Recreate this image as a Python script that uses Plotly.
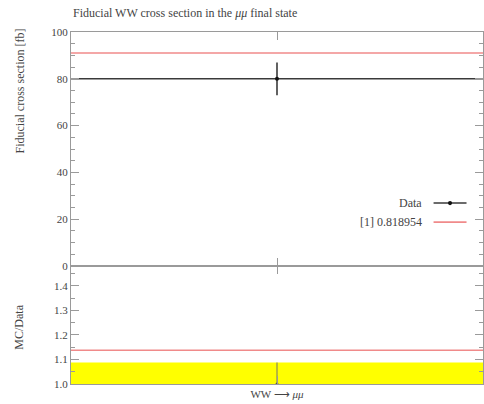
import plotly.graph_objects as go

# Measured fiducial cross section and prediction (fb)
bin_labels = ["WW ⟶ <i>μμ</i>"]
bin_edges = [0.0, 1.0]
data_value = [80.0]
data_error = [7.0]
mc_value = [91.0]
mc_label = "[1] 0.818954"
main_ticks = [0, 20, 40, 60, 80, 100]
ratio_ticks = [1.0, 1.1, 1.2, 1.3, 1.4]

FONT = "Liberation Serif"
TXT = "#444444"
AX = "#9a9a9a"
DARK = "#3a3a3a"
RED = "#f08a8a"

centers = [(bin_edges[i] + bin_edges[i + 1]) / 2 for i in range(len(data_value))]
ratio_mc = [m / d for m, d in zip(mc_value, data_value)]
ratio_err = [e / d for e, d in zip(data_error, data_value)]

fig = go.Figure()

# ---- main panel ----
for i in range(len(data_value)):
    fig.add_trace(go.Scatter(x=[bin_edges[i], bin_edges[i + 1]], y=[mc_value[i]] * 2,
                             mode="lines", line=dict(color=RED, width=1.6),
                             showlegend=False, xaxis="x", yaxis="y"))
    fig.add_trace(go.Scatter(x=[bin_edges[i], bin_edges[i + 1]], y=[data_value[i]] * 2,
                             mode="lines", line=dict(color=DARK, width=1.6),
                             showlegend=False, xaxis="x", yaxis="y"))
fig.add_trace(go.Scatter(x=centers, y=data_value, mode="markers",
                         marker=dict(color="#111111", size=4),
                         error_y=dict(type="data", array=data_error, color=DARK,
                                      thickness=1.6, width=0),
                         showlegend=False, xaxis="x", yaxis="y"))

# ---- ratio panel ----
for i in range(len(data_value)):
    lo, hi = 1 - ratio_err[i], 1 + ratio_err[i]
    fig.add_trace(go.Scatter(x=[bin_edges[i], bin_edges[i + 1], bin_edges[i + 1], bin_edges[i], bin_edges[i]],
                             y=[lo, lo, hi, hi, lo], fill="toself", fillcolor="#ffff00",
                             line=dict(width=0), mode="lines", showlegend=False,
                             xaxis="x2", yaxis="y2"))
    fig.add_trace(go.Scatter(x=[bin_edges[i], bin_edges[i + 1]], y=[ratio_mc[i]] * 2,
                             mode="lines", line=dict(color=RED, width=1.6),
                             showlegend=False, xaxis="x2", yaxis="y2"))
fig.add_trace(go.Scatter(x=centers, y=[1.0] * len(centers), mode="markers",
                         marker=dict(color="#555555", size=3),
                         error_y=dict(type="data", array=ratio_err, color="#8a8a5a",
                                      thickness=1.2, width=0),
                         showlegend=False, xaxis="x2", yaxis="y2"))

axis_common = dict(showline=True, linecolor=AX, linewidth=1, mirror="allticks",
                   ticks="inside", tickcolor=AX, showgrid=False, zeroline=False,
                   tickfont=dict(family=FONT, size=11, color=TXT))

fig.update_layout(
    width=484, height=404,
    margin=dict(l=71, r=1, t=32, b=20),
    paper_bgcolor="white", plot_bgcolor="white",
    showlegend=False,
    xaxis=dict(domain=[0, 1], range=[bin_edges[0], bin_edges[-1]], anchor="y",
               tickvals=centers, showticklabels=False, ticklen=8, **axis_common),
    yaxis=dict(domain=[0.335, 1], range=[0, 100], anchor="x", tickvals=main_ticks,
               ticklen=8, minor=dict(ticks="inside", ticklen=4, dtick=5, tickcolor=AX),
               **axis_common),
    xaxis2=dict(domain=[0, 1], range=[bin_edges[0], bin_edges[-1]], anchor="y2",
                tickvals=centers, ticktext=bin_labels, ticklen=8, **axis_common),
    yaxis2=dict(domain=[0, 0.335], range=[1.0, 1.48], anchor="x2", tickvals=ratio_ticks,
                ticktext=[f"{v:.1f}" for v in ratio_ticks], ticklen=8,
                minor=dict(ticks="inside", ticklen=4, dtick=0.05, tickcolor=AX),
                **axis_common),
)

# titles
fig.add_annotation(text="Fiducial WW cross section in the <i>μμ</i> final state",
                   xref="paper", yref="paper", x=0, y=1, yshift=10, xanchor="left",
                   yanchor="bottom", showarrow=False,
                   font=dict(family=FONT, size=12, color=TXT))
fig.add_annotation(text="Fiducial cross section [fb]", xref="paper", yref="paper",
                   x=0, xshift=-52, y=1, yshift=5, xanchor="center", yanchor="top",
                   textangle=-90, showarrow=False, font=dict(family=FONT, size=12, color=TXT))
fig.add_annotation(text="MC/Data", xref="paper", yref="paper",
                   x=0, xshift=-52, y=0.16, xanchor="center", yanchor="middle",
                   textangle=-90, showarrow=False, font=dict(family=FONT, size=12, color=TXT))

# legend (labels to the left of the samples)
leg_items = [("Data", DARK, True, 0.514), (mc_label, RED, False, 0.46)]
for label, color, dot, ypos in leg_items:
    fig.add_annotation(text=label, xref="paper", yref="paper", x=0.858, y=ypos,
                       xanchor="right", yanchor="middle", showarrow=False,
                       font=dict(family=FONT, size=12, color=TXT))
    fig.add_shape(type="line", xref="paper", yref="paper", x0=0.88, x1=0.96,
                  y0=ypos, y1=ypos, line=dict(color=color, width=1.6))
    if dot:
        fig.add_shape(type="circle", xref="paper", yref="paper",
                      x0=0.92 - 0.005, x1=0.92 + 0.005, y0=ypos - 0.006, y1=ypos + 0.006,
                      fillcolor="#111111", line=dict(width=0))

fig.write_html("out.html")
